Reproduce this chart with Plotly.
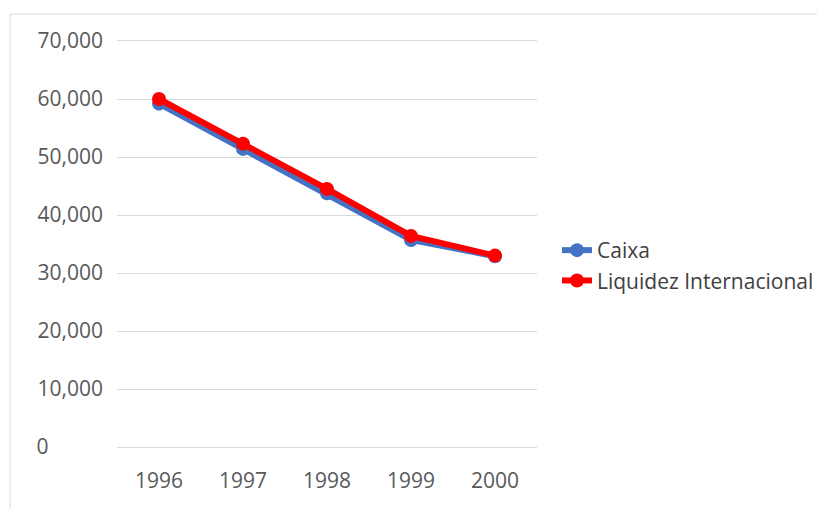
import plotly.graph_objects as go

years = ["1996", "1997", "1998", "1999", "2000"]
caixa = [59200, 51400, 43750, 35700, 32900]
liquidez = [60000, 52300, 44500, 36400, 33000]
y_ticks = [0, 10000, 20000, 30000, 40000, 50000, 60000, 70000]
# labels sit left-aligned in the reference, so the "0" is padded to full width
y_labels = ["0" + "\u00a0" * 10, "10,000", "20,000", "30,000",
            "40,000", "50,000", "60,000", "70,000"]

OFF = 8  # page body margin
L, R, T, B = 117 - OFF, 537 - OFF, 41 - OFF, 447 - OFF
W, H = 825 - OFF, 509 - OFF

def px_x(p):
    return (p - OFF - L) / (R - L)

def px_y(p):
    return (B - (p - OFF)) / (B - T)

fig = go.Figure()
fig.add_trace(go.Scatter(
    x=years, y=caixa, name="Caixa", mode="lines+markers",
    line=dict(color="#4472C4", width=6), marker=dict(color="#4472C4", size=14),
))
fig.add_trace(go.Scatter(
    x=years, y=liquidez, name="Liquidez Internacional", mode="lines+markers",
    line=dict(color="#FF0000", width=6), marker=dict(color="#FF0000", size=14),
))

fig.update_layout(
    width=W, height=H,
    margin=dict(l=L, r=W - R, t=T, b=H - B, pad=0, autoexpand=False),
    paper_bgcolor="white", plot_bgcolor="white",
    font=dict(family="Open Sans, Liberation Sans, sans-serif", size=21, color="#595959"),
    xaxis=dict(type="category", range=[-0.5, 4.5], showgrid=False,
               showline=True, mirror=True, linecolor="#d9d9d9", linewidth=1,
               ticks="", tickfont=dict(size=21, color="#595959"), ticklabelstandoff=15),
    yaxis=dict(range=[0, 70000], tickvals=y_ticks, ticktext=y_labels,
               showgrid=True, gridcolor="#d9d9d9", gridwidth=1, zeroline=False,
               showline=False, ticks="", tickfont=dict(size=21, color="#595959"),
               ticklabelstandoff=13),
    showlegend=True,
    legend=dict(x=px_x(557), xanchor="left", y=px_y(265.5), yanchor="middle",
                font=dict(size=21, color="#404040"), bgcolor="rgba(0,0,0,0)",
                itemwidth=30, tracegroupgap=0),
    shapes=[dict(type="rect", xref="paper", yref="paper",
                 x0=px_x(10), x1=px_x(900), y0=px_y(560), y1=px_y(14),
                 line=dict(color="#d9d9d9", width=1), fillcolor="rgba(0,0,0,0)",
                 layer="below")],
)

fig.write_html("out.html")
